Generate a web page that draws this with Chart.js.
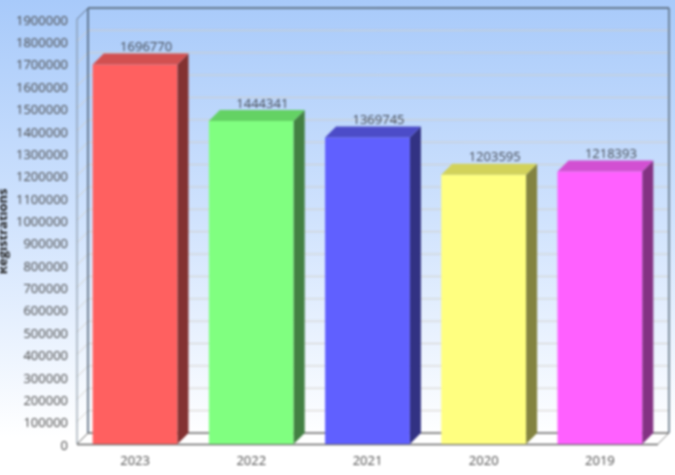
<!DOCTYPE html>
<html>
<head>
<meta charset="utf-8">
<script src="https://cdn.jsdelivr.net/npm/chart.js@4"></script>
<style>
  html, body { margin: 0; padding: 0; width: 675px; height: 475px; overflow: hidden; }
  body { background: linear-gradient(#a8cafa 0%, #cfe2fd 45%, #ffffff 92%); }
  canvas { display: block; filter: blur(0.8px); }
</style>
</head>
<body>
<canvas id="grafico" width="675" height="475"></canvas>
<script>
var anni = ['2023', '2022', '2021', '2020', '2019'];
var registrazioni = [1696770, 1444341, 1369745, 1203595, 1218393];

var colori_fronte = ['#ff6060', '#80ff80', '#6060ff', '#ffff80', '#ff60ff'];
var colori_lato = ['#833232', '#438043', '#323283', '#838340', '#833283'];
var colori_sopra = ['#d25050', '#64d264', '#4c4cc8', '#d2d25a', '#d250d2'];

// profondita' dell'effetto 3d
var prof = 11;

function poligono(ctx, punti, colore) {
  ctx.fillStyle = colore;
  ctx.beginPath();
  ctx.moveTo(punti[0][0], punti[0][1]);
  for (var i = 1; i < punti.length; i++) {
    ctx.lineTo(punti[i][0], punti[i][1]);
  }
  ctx.closePath();
  ctx.fill();
}

function linea(ctx, x1, y1, x2, y2, colore, spessore) {
  ctx.strokeStyle = colore;
  ctx.lineWidth = spessore;
  ctx.beginPath();
  ctx.moveTo(x1, y1);
  ctx.lineTo(x2, y2);
  ctx.stroke();
}

// pareti, pavimento e griglia dietro le barre
var pareti = {
  id: 'pareti',
  beforeDatasetsDraw: function (chart) {
    var ctx = chart.ctx;
    var a = chart.chartArea;
    var y = chart.scales.y;
    ctx.save();
    // pavimento
    poligono(ctx, [[a.left, a.bottom], [a.left + prof, a.bottom - prof], [a.right + prof, a.bottom - prof], [a.right, a.bottom]], '#ffffff');
    // griglia
    y.ticks.forEach(function (tick) {
      var py = y.getPixelForValue(tick.value);
      if (tick.value > 0) {
        linea(ctx, a.left + prof, py - prof, a.right + prof, py - prof, 'rgba(208,206,200,0.9)', 1);
      }
      linea(ctx, a.left, py, a.left + prof, py - prof, 'rgba(208,206,200,0.9)', 1);
    });
    // bordi
    linea(ctx, a.left + prof, a.top - prof, a.right + prof, a.top - prof, '#4a5d72', 1.5);
    linea(ctx, a.left + prof, a.top - prof, a.left + prof, a.bottom - prof, '#4a5d72', 1.5);
    linea(ctx, a.right + prof, a.top - prof, a.right + prof, a.bottom - prof, '#5a6b7c', 1.5);
    linea(ctx, a.left, a.top, a.left + prof, a.top - prof, '#5f7285', 1);
    linea(ctx, a.left, a.top, a.left, a.bottom, '#7b8997', 1);
    linea(ctx, a.left + prof, a.bottom - prof, a.right + prof, a.bottom - prof, '#666666', 1.5);
    linea(ctx, a.left, a.bottom, a.left + prof, a.bottom - prof, '#666666', 1);
    linea(ctx, a.right, a.bottom, a.right + prof, a.bottom - prof, '#888888', 1);
    linea(ctx, a.left, a.bottom + 0.5, a.right, a.bottom + 0.5, '#666666', 1.5);
    ctx.restore();
  }
};

// fianco, tetto e valore sopra ogni barra
var barre3d = {
  id: 'barre3d',
  afterDatasetsDraw: function (chart) {
    var ctx = chart.ctx;
    var barre = chart.getDatasetMeta(0).data;
    ctx.save();
    for (var i = 0; i < barre.length; i++) {
      var b = barre[i];
      var sx = b.x - b.width / 2;
      var dx = b.x + b.width / 2;
      poligono(ctx, [[dx, b.y], [dx + prof, b.y - prof], [dx + prof, b.base - prof], [dx, b.base]], colori_lato[i]);
      poligono(ctx, [[sx, b.y], [sx + prof, b.y - prof], [dx + prof, b.y - prof], [dx, b.y]], colori_sopra[i]);
      ctx.fillStyle = '#444a54';
      ctx.font = '13px "Open Sans"';
      ctx.textAlign = 'center';
      ctx.textBaseline = 'bottom';
      ctx.fillText(registrazioni[i], b.x + prof, b.y - prof + 0.5);
    }
    ctx.restore();
  }
};

var grafico = new Chart(document.getElementById('grafico'), {
  type: 'bar',
  data: {
    labels: anni,
    datasets: [{
      data: registrazioni,
      backgroundColor: colori_fronte,
      borderWidth: 0,
      barPercentage: 0.73,
      categoryPercentage: 1
    }]
  },
  options: {
    responsive: false,
    animation: false,
    layout: { padding: { top: 19, right: 17, bottom: 0, left: -5 } },
    plugins: { legend: { display: false }, tooltip: { enabled: false } },
    scales: {
      x: {
        grid: { display: false },
        border: { display: false },
        ticks: { color: '#4a4a4a', font: { family: 'Open Sans', size: 13 }, padding: 1, maxRotation: 0 },
        afterFit: function (scala) { scala.height = 31; }
      },
      y: {
        min: 0,
        max: 1900000,
        grid: { display: false },
        border: { display: false },
        afterBuildTicks: function (scala) {
          scala.ticks = [];
          for (var v = 0; v <= 1900000; v += 100000) {
            scala.ticks.push({ value: v });
          }
        },
        ticks: {
          color: '#4a4a4a',
          font: { family: 'Open Sans', size: 13 },
          padding: 1,
          labelOffset: 2,
          autoSkip: false,
          callback: function (v) { return String(v); }
        },
        title: {
          display: true,
          text: 'Registrations',
          color: '#222222',
          font: { family: 'Open Sans', size: 13, weight: 'bold' },
          padding: { top: 0, bottom: 0 }
        },
        afterFit: function (scala) { scala.width = 82; }
      }
    }
  },
  plugins: [pareti, barre3d]
});
</script>
</body>
</html>
